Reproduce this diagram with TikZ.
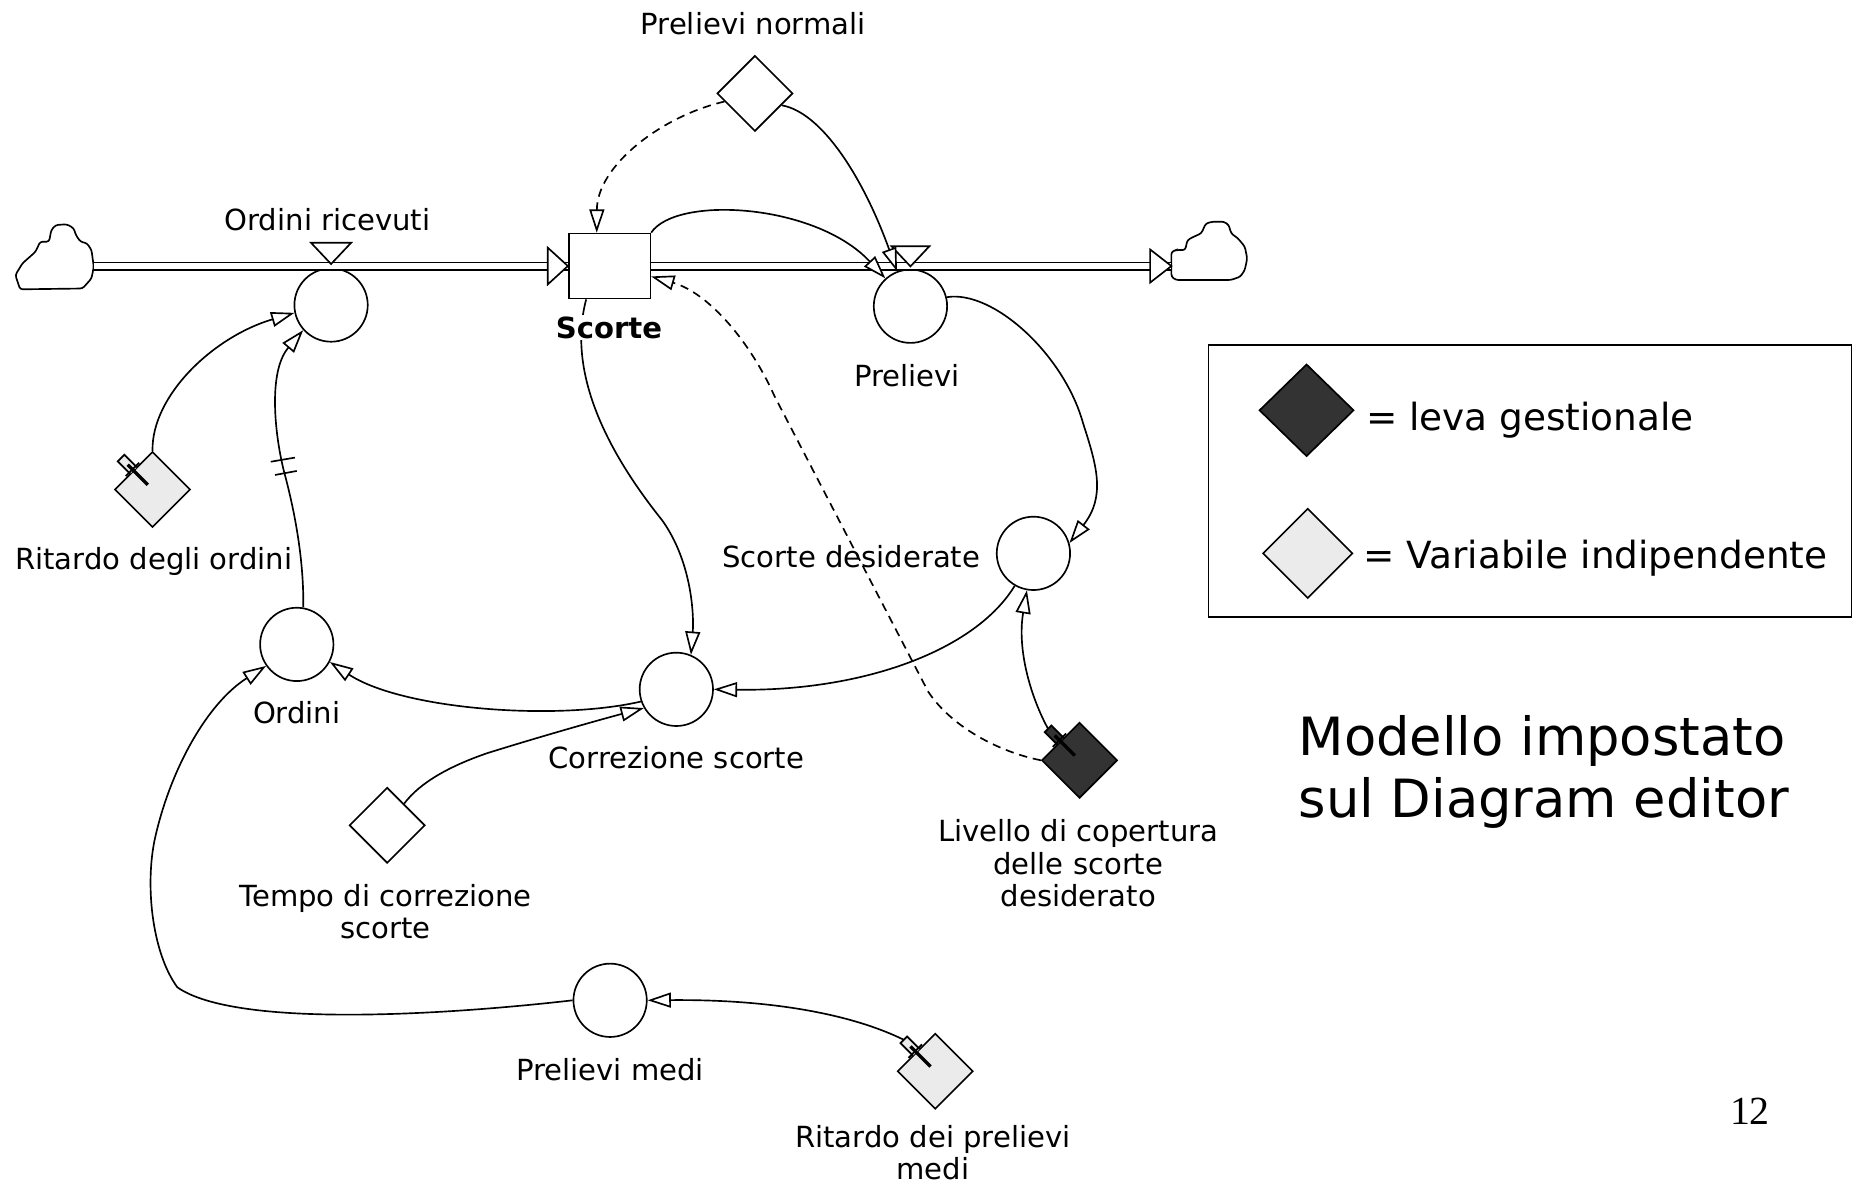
\documentclass[tikz,border=0pt]{standalone}
\usepackage{fontspec}
\setmainfont{DejaVu Sans}
\newfontfamily\pagefont{Liberation Serif}
\usetikzlibrary{shapes.geometric,arrows.meta,calc}

\definecolor{levergray}{gray}{0.2}
\definecolor{indepgray}{gray}{0.92}

\tikzset{
  aux/.style={circle,draw,line width=1pt,minimum size=1.55cm,inner sep=0pt},
  stock/.style={rectangle,draw,line width=1pt,minimum width=1.725cm,minimum height=1.375cm,inner sep=0pt},
  const/.style={diamond,aspect=1,draw,line width=1pt,minimum size=1.6cm,inner sep=0pt,fill=white},
  lever/.style={const,fill=levergray},
  indep/.style={const,fill=indepgray},
  lbl/.style={font=\fontsize{17.5}{19.5}\selectfont,align=center},
  link/.style={line width=1pt,-{Triangle[length=14pt,width=9pt,fill=white]}},
  info/.style={link,dash pattern=on 5pt off 3.5pt},
  pipe/.style={line width=1pt,double distance=3.4pt},
  valve/.style={draw,line width=1pt,fill=white},
}

\newcommand\leverknob[2]{%
  \draw[line width=1pt,fill=#2] ($(#1)+(-13.2,-18.8)$) -- ($(#1)+(-23.8,-29.4)$)
    -- ($(#1)+(-29.4,-23.8)$) -- ($(#1)+(-18.8,-13.2)$);
  \draw[line width=2pt] ($(#1)+(-4,-4)$) -- ($(#1)+(-21,-21)$);
  \draw[line width=1pt] ($(#1)+(-11.3,-22.7)$) -- ($(#1)+(-22.7,-11.3)$);
}

\begin{document}
\begin{tikzpicture}[x=0.025cm,y=-0.025cm]
  \useasboundingbox (0,0) rectangle (1568,1004);

  \draw[line width=1pt,rounded corners=1.5pt] (17,244.7) -- (13,232.6) -- (19,222.7) -- (30,213) -- (34,204.4)
    -- (41.5,204.4) -- (43.4,194.5) -- (47.2,190.3) -- (56.6,189.7) -- (62.3,193) -- (64.2,198.8)
    -- (68,204.4) -- (73.6,205.8) -- (77.4,211.5) -- (79.3,225.6) -- (77.4,235.5) -- (69.8,244) -- cycle;
  \draw[line width=1pt,rounded corners=1.5pt] (990.7,226.9) -- (990.7,213) -- (994.5,211.5) -- (1002.3,211.5)
    -- (1004.3,203) -- (1010,200) -- (1016,197.4) -- (1019.8,189) -- (1025.6,187.5) -- (1035.3,187.5)
    -- (1039.2,190.3) -- (1041.2,197.4) -- (1047,201.6) -- (1052.8,208.6) -- (1054.8,218.5)
    -- (1052.8,228.3) -- (1049,234) -- (1041,236.8) -- (994.5,236.8) -- (990.7,234) -- cycle;
  \coordinate (srcL) at (79.3,225);
  \coordinate (sinkR) at (990.7,225);

  \node (scorte) at (515.5,225) [stock] {};
  \node (ordric) at (280,258) [aux] {};
  \node (prel) at (770,259) [aux] {};
  \node (ordini) at (251,545) [aux] {};
  \node (corr) at (572,583) [aux] {};
  \node (sdes) at (874,468) [aux] {};
  \node (pmedi) at (516,846) [aux] {};

  \node (pnorm) at (638.5,79) [const] {};
  \node (tempo) at (327.5,698) [const] {};
  \node (rdo) at (129,414) [indep] {};
  \node (rdp) at (791,906) [indep] {};
  \node (livello) at (913,643) [lever] {};

  \draw[pipe] (srcL) -- (scorte.west);
  \draw[valve] ($(scorte.west)+(-17,-15.5)$) -- (scorte.west) -- ($(scorte.west)+(-17,15.5)$) -- cycle;
  \draw[pipe] (scorte.east) -- (sinkR);
  \draw[valve] ($(sinkR)+(-18,-14)$) -- (sinkR) -- ($(sinkR)+(-18,14)$) -- cycle;
  \draw[valve] ($(ordric.north)+(-17,-21)$) -- ($(ordric.north)+(17,-21)$) -- ($(ordric.north)+(0,-3)$) -- cycle;
  \draw[valve] ($(prel.north)+(-16,-19)$) -- ($(prel.north)+(16,-19)$) -- ($(prel.north)+(0,-2)$) -- cycle;

  \leverknob{rdo}{indepgray}
  \leverknob{rdp}{indepgray}
  \leverknob{livello}{levergray}
  \coordinate (livK) at ($(livello)+(-26.6,-26.6)$);
  \coordinate (rdpK) at ($(rdp)+(-26.6,-26.6)$);

  \draw[link] (rdo.north) .. controls (128,335) and (180,285) .. (ordric.192);
  \draw[link] (ordini.80) .. controls (257,475) and (250,435) .. (240,398)
    .. controls (233,370) and (226,315) .. (ordric.222);
  \draw[line width=1pt] (229,390.5) -- (249.5,387);
  \draw[line width=1pt] (232.6,401.7) -- (251,398.3);
  \draw[info] (pnorm.195) .. controls (560,98) and (505,140) .. (scorte.111);
  \draw[link] (pnorm.-24) .. controls (695,95) and (730,150) .. (prel.111);
  \draw[link] (scorte.north east) .. controls (572,165) and (690,172) .. (prel.132);
  \draw[link] (scorte.-125) .. controls (478,320) and (520,390) .. (560,440)
    .. controls (585,475) and (587,520) .. (corr.67);
  \draw[link] (prel.14) .. controls (840,245) and (900,300) .. (916,358)
    .. controls (928,395) and (935,420) .. (sdes.16);
  \draw[link] (sdes.240) .. controls (825,550) and (730,585) .. (corr.east);
  \draw[link] (livK) .. controls (872,590) and (860,550) .. (sdes.-100);
  \draw[info] (livello.west) .. controls (845,636) and (805,615) .. (785,585)
    -- (655,335) .. controls (635,290) and (600,248) .. (scorte.-14);
  \draw[link] (corr.199) .. controls (470,610) and (340,600) .. (ordini.-28);
  \draw[link] (tempo.52) .. controls (355,662) and (380,648) .. (412,637)
    .. controls (460,622) and (510,608) .. (corr.210);
  \draw[link] (pmedi.west) .. controls (380,858) and (200,870) .. (150,835)
    .. controls (128,805) and (122,745) .. (132,705)
    .. controls (145,650) and (175,595) .. (ordini.215);
  \draw[link] (rdpK) .. controls (725,860) and (660,845) .. (pmedi.east);

  \node (pnormL) at (637,20) [lbl] {Prelievi normali};
  \node (ordricL) at (277,186) [lbl] {Ordini ricevuti};
  \node (scorteL) at (515,277) [lbl,font=\fontsize{17.5}{19.5}\selectfont\bfseries,fill=white,inner sep=1pt] {Scorte};
  \node (prelL) at (767,318) [lbl] {Prelievi};
  \node (rdoL) at (130,475) [lbl] {Ritardo degli ordini};
  \node (sdesL) at (720,471) [lbl] {Scorte desiderate};
  \node (ordiniL) at (251,603) [lbl] {Ordini};
  \node (corrL) at (572,641) [lbl] {Correzione scorte};
  \node (tempoL) at (326,771) [lbl] {Tempo di correzione\\scorte};
  \node (livelloL) at (912,730) [lbl] {Livello di copertura\\delle scorte\\desiderato};
  \node (pmediL) at (516,905) [lbl] {Prelievi medi};
  \node (rdpL) at (789,975) [lbl] {Ritardo dei prelievi\\medi};

  \draw[line width=1pt] (1022,292) rectangle (1566,522);
  \node (legLev) at (1105,347) [lever,minimum width=2cm,minimum height=1.95cm] {};
  \node (legInd) at (1106,468) [indep,minimum size=1.9cm] {};
  \node (legLevT) at (1155,364) [anchor=base west,inner sep=0pt,font=\fontsize{22.5}{27}\selectfont] {= leva gestionale};
  \node (legIndT) at (1153,481) [anchor=base west,inner sep=0pt,font=\fontsize{22.5}{27}\selectfont] {= Variabile indipendente};

  \node (title) at (1098,653) [anchor=west,align=left,inner sep=0pt,font=\fontsize{31.7}{37.7}\selectfont] {Modello impostato\\sul Diagram editor};
  \node (pageno) at (1480,940) [font=\pagefont\fontsize{24}{28}\selectfont] {12};
\end{tikzpicture}
\end{document}
